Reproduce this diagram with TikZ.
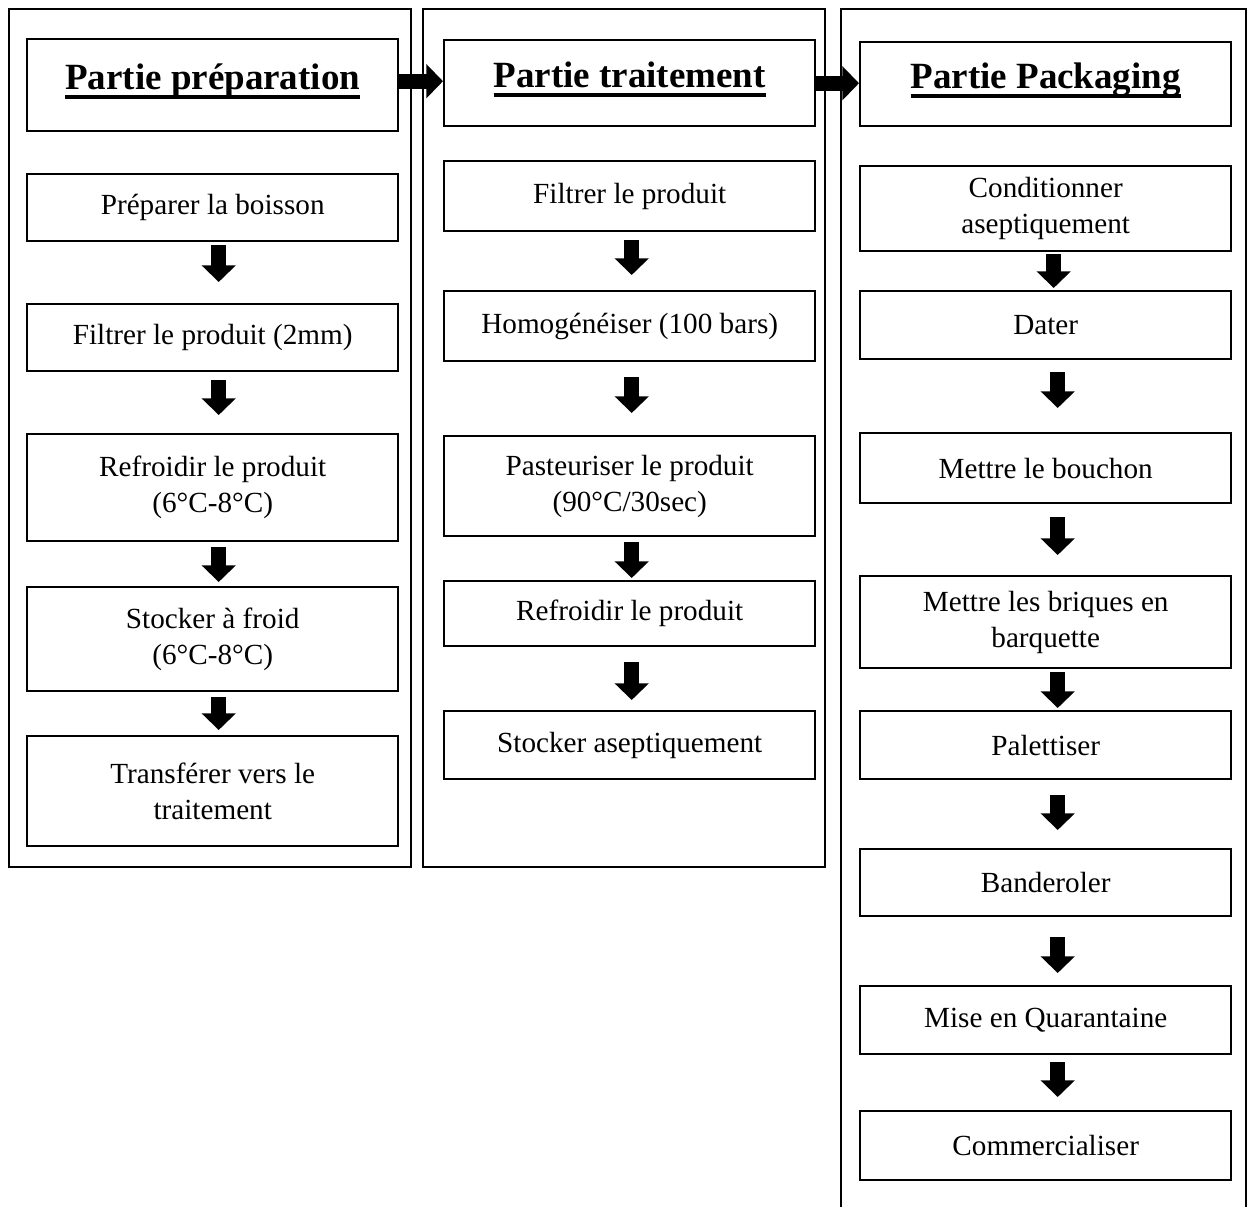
\documentclass[tikz,border=0pt]{standalone}
\usepackage{fontspec}
\setmainfont{Liberation Serif}
\usetikzlibrary{arrows.meta,calc,positioning}

\newcommand{\px}{0.411pt}
\newsavebox{\headbox}
\newcommand{\headline}[1]{\sbox{\headbox}{#1}\usebox{\headbox}\llap{\rule[-3.6pt]{\wd\headbox}{1.36pt}}}

\begin{document}
\begin{tikzpicture}[x=\px,y=-\px,
  frame/.style={draw,line width=0.9pt},
  stage/.style={draw,line width=1pt,anchor=north west,align=center,inner sep=0pt,
    minimum width=371*\px,font=\fontsize{12}{14.8}\selectfont},
  head/.style={stage,text depth=6.8pt,font=\fontsize{15.2}{18}\selectfont\bfseries},
  flow/.style={line width=6.2pt,-{Triangle[length=6.8pt,width=13.6pt]}}]
\useasboundingbox (0,0) rectangle (1247,1207);

% the three parts
\draw[frame] (9,9) rectangle (411,867);
\draw[frame] (423,9) rectangle (825,867);
\draw[frame] (841,1207) -- (841,9) -- (1246,9) -- (1246,1207);

\node[head,minimum height=92*\px] (hprep) at (26,38) {\headline{Partie préparation}};
\node[head,minimum height=86*\px] (htrait) at (443,39) {\headline{Partie traitement}};
\node[head,minimum height=84*\px] (hpack) at (859,41) {\headline{Partie Packaging}};

\draw[flow] ($(hprep.east)+(0,-4)$) -- ($(htrait.west)+(0,-2)$);
\draw[flow] ($(htrait.east)+(0,0)$) -- ($(hpack.west)+(0,-1)$);

% preparation
\node[stage,minimum height=67*\px] (prep1) at (26,173) {Préparer la boisson};
\node[stage,minimum height=67*\px] (prep2) at (26,303) {Filtrer le produit (2mm)};
\node[stage,minimum height=107*\px] (prep3) at (26,433) {Refroidir le produit\\(6°C-8°C)};
\node[stage,minimum height=104*\px] (prep4) at (26,586) {Stocker à froid\\(6°C-8°C)};
\node[stage,minimum height=110*\px] (prep5) at (26,735) {Transférer vers le\\traitement};

\draw[flow] ($(prep1.south)+(6,3)$) -- ($(prep2.north)+(6,-21)$);
\draw[flow] ($(prep2.south)+(6,8)$) -- ($(prep3.north)+(6,-18)$);
\draw[flow] ($(prep3.south)+(6,5)$) -- ($(prep4.north)+(6,-4)$);
\draw[flow] ($(prep4.south)+(6,5)$) -- ($(prep5.north)+(6,-5)$);

% traitement
\node[stage,minimum height=70*\px] (trait1) at (443,160) {Filtrer le produit};
\node[stage,minimum height=70*\px] (trait2) at (443,290) {Homogénéiser (100 bars)};
\node[stage,minimum height=100*\px] (trait3) at (443,435) {Pasteuriser le produit\\(90°C/30sec)};
\node[stage,minimum height=65*\px] (trait4) at (443,580) {Refroidir le produit};
\node[stage,minimum height=68*\px] (trait5) at (443,710) {Stocker aseptiquement};

\draw[flow] ($(trait1.south)+(2,8)$) -- ($(trait2.north)+(2,-15)$);
\draw[flow] ($(trait2.south)+(2,15)$) -- ($(trait3.north)+(2,-22)$);
\draw[flow] ($(trait3.south)+(2,5)$) -- ($(trait4.north)+(2,-2)$);
\draw[flow] ($(trait4.south)+(2,15)$) -- ($(trait5.north)+(2,-10)$);

% packaging
\node[stage,minimum height=85*\px] (pack1) at (859,165) {Conditionner\\aseptiquement};
\node[stage,minimum height=68*\px] (pack2) at (859,290) {Dater};
\node[stage,minimum height=70*\px] (pack3) at (859,432) {Mettre le bouchon};
\node[stage,minimum height=92*\px] (pack4) at (859,575) {Mettre les briques en\\barquette};
\node[stage,minimum height=68*\px] (pack5) at (859,710) {Palettiser};
\node[stage,minimum height=67*\px] (pack6) at (859,848) {Banderoler};
\node[stage,minimum height=68*\px] (pack7) at (859,985) {Mise en Quarantaine};
\node[stage,minimum height=69*\px] (pack8) at (859,1110) {Commercialiser};

\draw[flow] ($(pack1.south)+(8,2)$) -- ($(pack2.north)+(8,-2)$);
\draw[flow] ($(pack2.south)+(12,12)$) -- ($(pack3.north)+(12,-24)$);
\draw[flow] ($(pack3.south)+(12,13)$) -- ($(pack4.north)+(12,-20)$);
\draw[flow] ($(pack4.south)+(12,3)$) -- ($(pack5.north)+(12,-2)$);
\draw[flow] ($(pack5.south)+(12,15)$) -- ($(pack6.north)+(12,-18)$);
\draw[flow] ($(pack6.south)+(12,20)$) -- ($(pack7.north)+(12,-12)$);
\draw[flow] ($(pack7.south)+(12,7)$) -- ($(pack8.north)+(12,-13)$);
\end{tikzpicture}
\end{document}
